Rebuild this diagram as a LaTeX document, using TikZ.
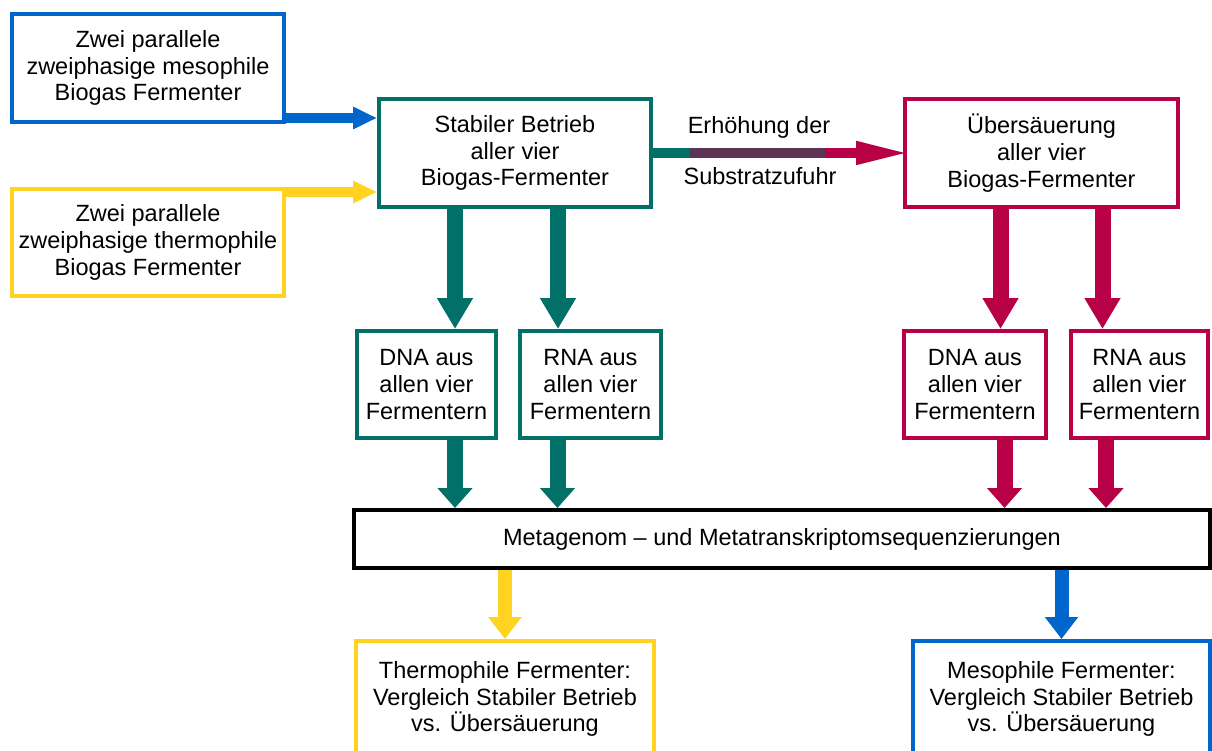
\documentclass[tikz,border=0pt]{standalone}
\usepackage{fontspec}
\setmainfont{Liberation Sans}
\usetikzlibrary{arrows.meta,calc}
\definecolor{cblue}{HTML}{0066CC}
\definecolor{cyellow}{HTML}{FFD320}
\definecolor{cteal}{HTML}{007069}
\definecolor{ccrim}{HTML}{B80047}
\definecolor{cmix}{HTML}{5E3455}
\begin{document}
\begin{tikzpicture}[x=1pt,y=-1pt,
  box/.style={draw,line width=4pt,rectangle,inner sep=0pt,align=center,
    font=\fontsize{23.5}{26.8}\selectfont,fill=white},
  lbl/.style={inner sep=0pt,align=center,font=\fontsize{23.5}{26.8}\selectfont},
  bigdown/.style={line width=16pt,-{Triangle[width=34pt,length=31pt]}},
  smalldown/.style={line width=16pt,-{Triangle[width=34pt,length=20pt]}},
  outdown/.style={line width=14pt,-{Triangle[width=32pt,length=22pt]}},
  sidearrow/.style={line width=10pt,-{Triangle[width=21pt,length=24pt]}}
]
\useasboundingbox (0,0) rectangle (1212,751);

% top-left input boxes
\node[box,draw=cblue,minimum width=272pt,minimum height=108pt] (meso) at (148,68)
  {Zwei parallele\\zweiphasige mesophile\\Biogas Fermenter};
\node[box,draw=cyellow,minimum width=272pt,minimum height=107pt] (thermo) at (148,242.5)
  {Zwei parallele\\zweiphasige thermophile\\Biogas Fermenter};

% state boxes
\node[box,draw=cteal,minimum width=272pt,minimum height=108pt] (stab) at (515,153)
  {Stabiler Betrieb\\aller vier\\Biogas-Fermenter};
\node[box,draw=ccrim,minimum width=273pt,minimum height=108pt] (ueber) at (1041.5,153)
  {Übersäuerung\\aller vier\\Biogas-Fermenter};

% DNA / RNA boxes
\node[box,draw=cteal,minimum width=139pt,minimum height=107pt] (dnaT) at (426.5,384.5)
  {DNA aus\\allen vier\\Fermentern};
\node[box,draw=cteal,minimum width=141pt,minimum height=107pt] (rnaT) at (590.5,384.5)
  {RNA aus\\allen vier\\Fermentern};
\node[box,draw=ccrim,minimum width=142pt,minimum height=107pt] (dnaC) at (975,384.5)
  {DNA aus\\allen vier\\Fermentern};
\node[box,draw=ccrim,minimum width=137pt,minimum height=107pt] (rnaC) at (1139.5,384.5)
  {RNA aus\\allen vier\\Fermentern};

% sequencing box
\node[box,draw=black,minimum width=856pt,minimum height=58pt] (meta) at (782,539)
  {Metagenom – und Metatranskriptomsequenzierungen};

% result boxes (cut by the lower edge)
\node[box,draw=cyellow,minimum width=298pt,minimum height=116pt] (resT) at (505,699)
  {Thermophile Fermenter:\\Vergleich Stabiler Betrieb\\vs. Übersäuerung};
\node[box,draw=cblue,minimum width=297pt,minimum height=116pt] (resM) at (1061.5,699)
  {Mesophile Fermenter:\\Vergleich Stabiler Betrieb\\vs. Übersäuerung};

% input arrows
\coordinate (ma) at ([yshift=6pt]meso.south east);
\coordinate (ta) at ([yshift=-5pt]thermo.north east);
\draw[sidearrow,cblue] (ma) -- (stab.west |- ma);
\draw[sidearrow,cyellow] (ta) -- (stab.west |- ta);

% middle arrow
\coordinate (m1) at ($(stab.east)!0.148!(ueber.west)$);
\coordinate (m2) at ($(stab.east)!0.688!(ueber.west)$);
\draw[line width=10pt,cteal] (stab.east) -- (m1);
\draw[line width=10pt,cmix] (m1) -- (m2);
\draw[line width=10pt,ccrim,shorten >=-8pt,-{Triangle[width=21pt,length=55pt]}] (m2) -- (ueber.west);
\node[lbl] (erh) at (759,127) {Erhöhung der};
\node[lbl] (sub) at (760,176) {Substratzufuhr};

% down arrows teal
\coordinate (s1) at ([xshift=-60pt]stab.south);
\coordinate (s2) at ([xshift=43pt]stab.south);
\coordinate (d1) at ([xshift=28.5pt]dnaT.south);
\coordinate (d2) at ([xshift=-33pt]rnaT.south);
\draw[bigdown,cteal] (s1) -- (s1 |- dnaT.north);
\draw[bigdown,cteal] (s2) -- (s2 |- rnaT.north);
\draw[smalldown,cteal] (d1) -- (d1 |- meta.north);
\draw[smalldown,cteal] (d2) -- (d2 |- meta.north);

% down arrows crimson
\coordinate (u1) at ([xshift=-41pt]ueber.south);
\coordinate (u2) at ([xshift=61pt]ueber.south);
\coordinate (e1) at ([xshift=29.5pt]dnaC.south);
\coordinate (e2) at ([xshift=-33.5pt]rnaC.south);
\draw[bigdown,ccrim] (u1) -- (u1 |- dnaC.north);
\draw[bigdown,ccrim] (u2) -- (u2 |- rnaC.north);
\draw[smalldown,ccrim] (e1) -- (e1 |- meta.north);
\draw[smalldown,ccrim] (e2) -- (e2 |- meta.north);

% output arrows
\draw[outdown,cyellow] (resT.north |- meta.south) -- (resT.north);
\draw[outdown,cblue] (resM.north |- meta.south) -- (resM.north);
\end{tikzpicture}
\end{document}
